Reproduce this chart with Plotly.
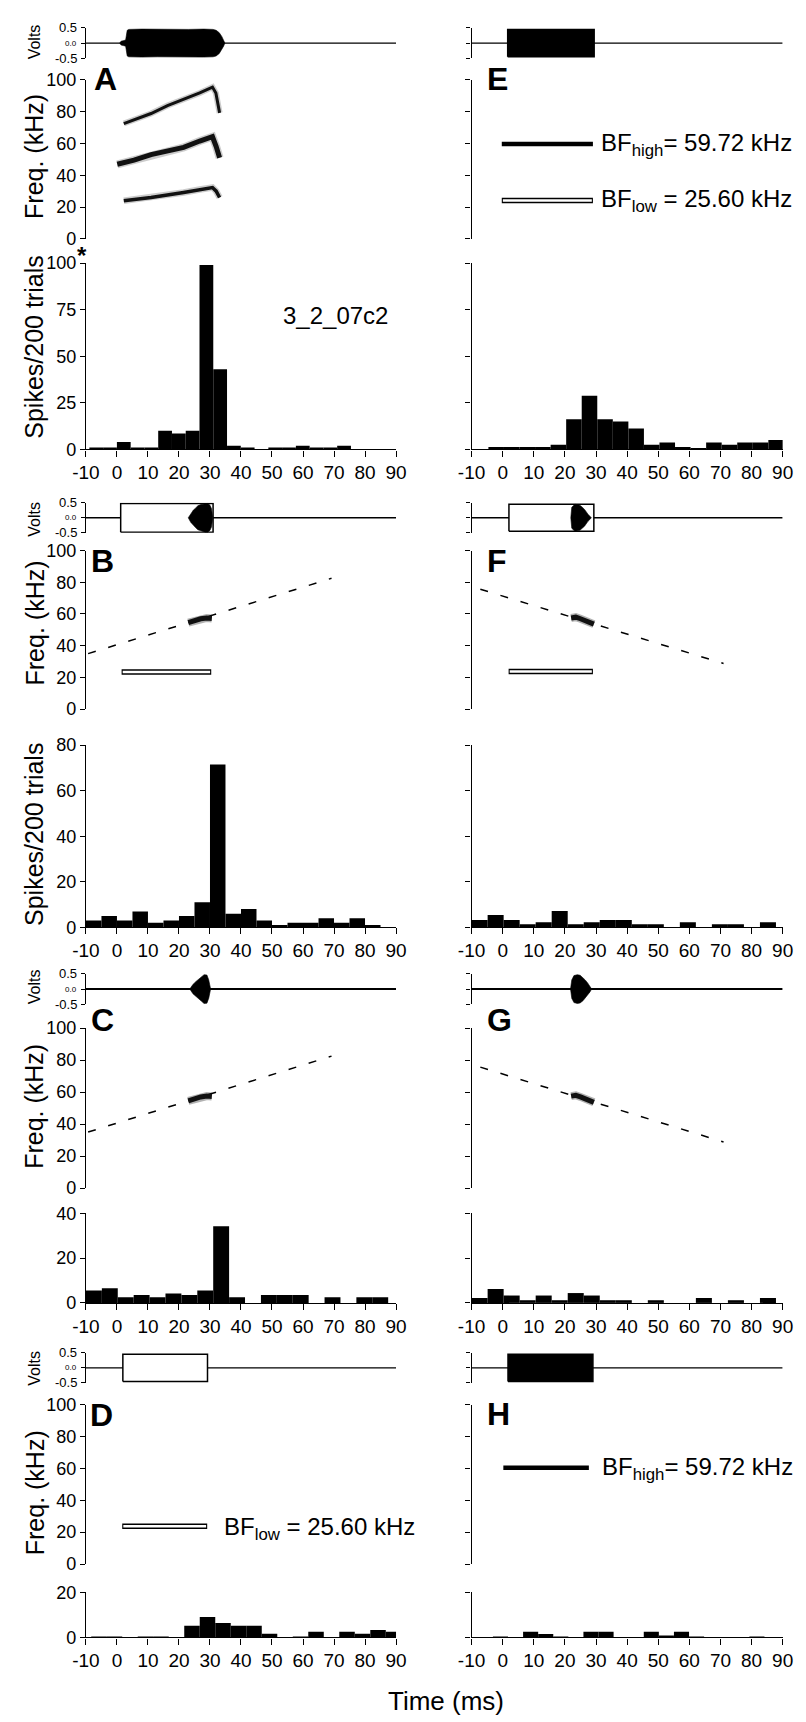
import plotly.graph_objects as go

W, H = 806, 1722
FONT = "Liberation Sans, Arial, Helvetica, sans-serif"

# ---------------- data ----------------
time_ticks = [-10, 0, 10, 20, 30, 40, 50, 60, 70, 80, 90]
time_labels = ["-10", "0", "10", "20", "30", "40", "50", "60", "70", "80", "90"]
freq_ticks = [0, 20, 40, 60, 80, 100]
volt_ticks = [-0.5, 0.0, 0.5]
volt_labels = ["-0.5", "0.0", "0.5"]

# PSTH (spikes / 200 trials): first bin start (ms), bin width (ms), counts
psth_A_start, psth_A_width = -8.9, 4.44
psth_A = [1, 1, 4, 1, 1, 10, 8.5, 10, 99, 43, 2, 1, 0, 1, 1, 2, 1, 1, 2, 0, 0, 0]
psth_B_start, psth_B_width = -10.0, 5.0
psth_B = [3, 5, 3, 7, 2, 3, 5, 11, 71.5, 6, 8, 3, 1, 2, 2, 4, 2, 4, 1, 0]
psth_C_start, psth_C_width = -10.0, 5.13
psth_C = [5.5, 6.5, 2.5, 3.5, 2.5, 4.2, 3.5, 5.5, 34.3, 2.5, 0, 3.5, 3.5, 3.5, 0, 2.5, 0, 2.5, 2.5]
psth_D_start, psth_D_width = -8.3, 5.0
psth_D = [0.3, 0.3, 0, 0.3, 0.3, 0, 5.2, 9.1, 6.4, 5.2, 5.2, 1.6, 0, 0.3, 2.5, 0, 2.5, 1.6, 3.3, 2.5]
psth_E_start, psth_E_width = -9.6, 5.0
psth_E = [0, 1, 1, 1, 1, 2, 13, 23, 13, 12, 9, 2, 3, 1, 0.3, 3, 2, 3, 3, 4]
psth_F_start, psth_F_width = -10.0, 5.15
psth_F = [3.2, 5.4, 3.2, 1.4, 2.2, 7.2, 1.4, 2.2, 3.2, 3.2, 1.4, 1.4, 0, 2.2, 0, 1.4, 1.4, 0, 2.2]
psth_G_start, psth_G_width = -10.0, 5.15
psth_G = [2.2, 6.2, 3.3, 1.2, 3.3, 1.2, 4.4, 3.3, 1.2, 1.2, 0, 1.2, 0, 0, 2.2, 0, 1.2, 0, 2.2]
psth_H_start, psth_H_width = -8.0, 4.85
psth_H = [0, 0.3, 0, 2.5, 1.5, 0.3, 0, 2.5, 2.5, 0, 0, 2.5, 0.5, 2.5, 0.3, 0, 0, 0, 0.3, 0]
psth_ymax = dict(A=100, B=80, C=40, D=20, E=80, F=80, G=40, H=20)
psth_yticks = dict(A=[0, 25, 50, 75, 100], B=[0, 20, 40, 60, 80], C=[0, 20, 40], D=[0, 20],
                   E=[0, 20, 40, 60, 80], F=[0, 20, 40, 60, 80], G=[0, 20, 40], H=[0, 20])

# oscillogram envelopes (ms, volts)
osc_A_t = [0.9, 1.3, 2.0, 2.8, 3.3, 3.8, 8, 13, 18, 23, 28, 31.0, 32.0, 33.0, 33.8, 34.4, 34.8]
osc_A_amp = [0, 0.06, 0.08, 0.1, 0.42, 0.45, 0.46, 0.45, 0.46, 0.45, 0.46, 0.45, 0.42, 0.34, 0.22, 0.1, 0]
osc_B_t = [23.0, 23.8, 24.6, 25.4, 26.1, 27.0, 27.7, 28.5, 29.3, 30.0, 30.5, 30.9]
osc_B_amp = [0, 0.15, 0.25, 0.33, 0.4, 0.44, 0.46, 0.48, 0.48, 0.42, 0.3, 0]
osc_C_t = [23.5, 24.5, 25.5, 26.5, 27.3, 28.1, 29.0, 29.6, 30.2]
osc_C_amp = [0, 0.15, 0.25, 0.33, 0.4, 0.47, 0.46, 0.3, 0]
osc_F_t = [21.9, 22.2, 23.2, 24.8, 25.6, 26.3, 27.4, 28.0, 28.5]
osc_F_amp = [0, 0.35, 0.45, 0.42, 0.35, 0.28, 0.12, 0.06, 0]
osc_G_t = [21.8, 22.2, 22.9, 24.0, 24.9, 25.8, 26.5, 27.3, 28.0, 28.6]
osc_G_amp = [0, 0.3, 0.44, 0.47, 0.45, 0.38, 0.3, 0.2, 0.1, 0]

# tone stimulus boxes: onset, offset (ms), amplitude (V)
tone_B = (1.2, 31.0, 0.48)
tone_D = (1.9, 29.2, 0.45)
tone_E = (1.6, 29.4, 0.45)
tone_F = (2.0, 29.3, 0.45)
tone_H = (1.7, 29.0, 0.45)

# spectrogram traces (ms, kHz)
harm1_t = [2.2, 11.0, 21.5, 26.7, 30.8, 32.0, 33.1]
harm1_f = [24, 26, 29.2, 31, 32.3, 30, 26]
harm2_t = [0.1, 5.5, 11.0, 16.3, 21.5, 26.7, 30.8, 32.0, 33.1]
harm2_f = [46.9, 49.5, 53, 55.5, 57.5, 61.5, 64.2, 58, 51]
harm3_t = [2.2, 11.0, 16.3, 21.5, 26.7, 30.8, 31.9, 33.1]
harm3_f = [72.5, 78.8, 83.8, 87.5, 91.7, 95.4, 91.7, 79.2]
sweep_up_t, sweep_up_f = [-9.3, 69.2], [35, 82.5]
sweep_down_t, sweep_down_f = [-7.2, 71.0], [75.6, 28.8]
seg_up_t, seg_up_f = [23, 25, 27, 29, 30.6], [54.5, 55.8, 57, 57.5, 57.2]
seg_down_t, seg_down_f = [22, 23.5, 25, 27, 29.3], [57.5, 58, 57, 55.3, 53.6]
bf_low_bar = dict(B=(1.5, 30.4, 23.5), D=(1.7, 29.1, 23.7), E=(-0.3, 29.0, 24.2), F=(1.9, 29.0, 23.8))
bf_high_bar = dict(E=(-0.3, 29.0, 59.6), H=(0.2, 27.7, 60.4))

# ---------------- layout geometry (pixels) ----------------
col_x = [(66, 386), (464, 785)]
rows = [
    dict(volt=(10, 40.8), freq=(62.5, 223.5), psth=(248, 436.5)),
    dict(volt=(490.5, 520.8), freq=(538.8, 699.3), psth=(735.7, 920)),
    dict(volt=(967, 998), freq=(1022, 1183.8), psth=(1209.5, 1300)),
    dict(volt=(1350.5, 1381), freq=(1403, 1564.2), psth=(1593, 1638.5)),
]
panels = [("A", 0, 0), ("B", 0, 1), ("C", 0, 2), ("D", 0, 3),
          ("E", 1, 0), ("F", 1, 1), ("G", 1, 2), ("H", 1, 3)]

fig = go.Figure()
layout_axes = {}
counter = [0]
ann = []


def new_axes(xpx, ypx):
    counter[0] += 1
    n = counter[0]
    xa = "xaxis" if n == 1 else f"xaxis{n}"
    ya = "yaxis" if n == 1 else f"yaxis{n}"
    xr = "x" if n == 1 else f"x{n}"
    yr = "y" if n == 1 else f"y{n}"
    layout_axes[xa] = dict(domain=[xpx[0] / W, xpx[1] / W], anchor=yr)
    layout_axes[ya] = dict(domain=[1 - ypx[1] / H, 1 - ypx[0] / H], anchor=xr)
    return xa, ya, xr, yr


base_axis = dict(showgrid=False, zeroline=False, linecolor="black", linewidth=1.3,
                 ticks="outside", tickcolor="black", ticklen=5, tickwidth=1.2,
                 tickfont=dict(family=FONT, size=18, color="black"), fixedrange=True)


def line(xr, yr, t, f, width, color="black", dash=None):
    fig.add_trace(go.Scatter(x=t, y=f, mode="lines", xaxis=xr, yaxis=yr, showlegend=False,
                             line=dict(color=color, width=width, dash=dash), hoverinfo="skip"))


def envelope(xr, yr, t, amp):
    xs = list(t) + list(t)[::-1]
    ys = list(amp) + [-a for a in amp][::-1]
    fig.add_trace(go.Scatter(x=xs, y=ys, mode="lines", fill="toself", fillcolor="black",
                             line=dict(color="black", width=0.6), xaxis=xr, yaxis=yr,
                             showlegend=False, hoverinfo="skip"))


def box(xr, yr, tone, filled):
    t0, t1, a = tone
    fig.add_trace(go.Scatter(x=[t0, t1, t1, t0, t0], y=[-a, -a, a, a, -a], mode="lines",
                             fill="toself", fillcolor="black" if filled else "white",
                             line=dict(color="black", width=1.5), xaxis=xr, yaxis=yr,
                             showlegend=False, hoverinfo="skip"))


def open_bar(xr, yr, spec):
    t0, t1, f = spec
    line(xr, yr, [t0, t1], [f, f], 5.5)
    line(xr, yr, [t0 + 0.35, t1 - 0.35], [f, f], 2.5, color="white")


psth_data = dict(A=(psth_A_start, psth_A_width, psth_A), B=(psth_B_start, psth_B_width, psth_B),
                 C=(psth_C_start, psth_C_width, psth_C), D=(psth_D_start, psth_D_width, psth_D),
                 E=(psth_E_start, psth_E_width, psth_E), F=(psth_F_start, psth_F_width, psth_F),
                 G=(psth_G_start, psth_G_width, psth_G), H=(psth_H_start, psth_H_width, psth_H))


def px(x):
    return x / W


def py(y):
    return 1 - y / H


def text(x, y, s, size, bold=False, angle=0, xanchor="center", yanchor="middle"):
    ann.append(dict(x=px(x), y=py(y), xref="paper", yref="paper", text=s,
                    showarrow=False, textangle=angle, xanchor=xanchor, yanchor=yanchor,
                    font=dict(family=FONT, size=size, color="black",
                              weight=("bold" if bold else "normal"))))


for name, c, r in panels:
    left = c == 0
    xpx = col_x[c]
    g = rows[r]
    # ---- oscillogram ----
    xa, ya, xr, yr = new_axes(xpx, g["volt"])
    layout_axes[xa].update(visible=False, range=[-10, 90])
    layout_axes[ya].update(base_axis, range=[-0.5, 0.5], tickvals=volt_ticks,
                           showticklabels=False, showline=True, ticklen=4)
    if left:
        v0, v1 = g["volt"]
        for val, lab in zip(volt_ticks, volt_labels):
            ypos = v1 - (val + 0.5) * (v1 - v0)
            text(xpx[0] - 7, ypos, lab, 8 if val == 0 else 13, xanchor="right")
    line(xr, yr, [-10, 90], [0, 0], 2 if name in "CG" else 1.3)
    if name == "A":
        envelope(xr, yr, osc_A_t, osc_A_amp)
    if name == "B":
        box(xr, yr, tone_B, False)
        envelope(xr, yr, osc_B_t, osc_B_amp)
    if name == "C":
        envelope(xr, yr, osc_C_t, osc_C_amp)
    if name == "D":
        box(xr, yr, tone_D, False)
    if name == "E":
        box(xr, yr, tone_E, True)
    if name == "F":
        box(xr, yr, tone_F, False)
        envelope(xr, yr, osc_F_t, osc_F_amp)
    if name == "G":
        envelope(xr, yr, osc_G_t, osc_G_amp)
    if name == "H":
        box(xr, yr, tone_H, True)

    # ---- spectrogram ----
    xa, ya, xr, yr = new_axes(xpx, g["freq"])
    layout_axes[xa].update(visible=False, range=[-10, 90])
    layout_axes[ya].update(base_axis, range=[0, 100], tickvals=freq_ticks, showticklabels=left,
                           showline=True)
    if name == "A":
        for t, f, w in ((harm1_t, harm1_f, 3.5), (harm2_t, harm2_f, 5), (harm3_t, harm3_f, 3)):
            line(xr, yr, t, f, w + 3, color="rgba(0,0,0,0.2)")
            line(xr, yr, t, f, w, color="#111")
    if name in "BC":
        line(xr, yr, sweep_up_t, sweep_up_f, 1.5, dash="8px,13px")
        line(xr, yr, seg_up_t, seg_up_f, 8, color="rgba(0,0,0,0.3)")
        line(xr, yr, seg_up_t, seg_up_f, 5, color="#111")
    if name in "FG":
        line(xr, yr, sweep_down_t, sweep_down_f, 1.5, dash="8px,13px")
        line(xr, yr, seg_down_t, seg_down_f, 8, color="rgba(0,0,0,0.3)")
        line(xr, yr, seg_down_t, seg_down_f, 5, color="#111")
    if name in bf_low_bar:
        open_bar(xr, yr, bf_low_bar[name])
    if name in bf_high_bar:
        t0, t1, f = bf_high_bar[name]
        line(xr, yr, [t0, t1], [f, f], 4.5)

    # ---- PSTH ----
    xa, ya, xr, yr = new_axes(xpx, g["psth"])
    start, width, counts = psth_data[name]
    centers = [start + width * (i + 0.5) for i in range(len(counts))]
    fig.add_trace(go.Bar(x=centers, y=counts, width=[width] * len(counts), xaxis=xr, yaxis=yr,
                         marker=dict(color="black", line=dict(width=0)), showlegend=False,
                         hoverinfo="skip"))
    layout_axes[xa].update(base_axis, range=[-10, 90], tickvals=time_ticks, ticktext=time_labels,
                           showline=True, ticklen=6,
                           tickfont=dict(family=FONT, size=19, color="black"))
    layout_axes[ya].update(base_axis, range=[0, psth_ymax[name]], tickvals=psth_yticks[name],
                           showticklabels=left, showline=True)

# panel letters
for s, x, y in (("A", 86, 61.5), ("B", 83, 549.5), ("C", 83, 1014), ("D", 82.5, 1413.5),
                ("E", 491, 61.5), ("F", 490, 549), ("G", 493, 1014), ("H", 491.5, 1412)):
    text(x, y, s, 32, bold=True)

# axis titles (left column)
for y in (24, 507, 980, 1366):
    text(13, y, "Volts", 16, angle=-90)
for y in (140, 612, 1101, 1492):
    text(13, y, "Freq. (kHz)", 25, angle=-90)
for y in (333, 826):
    text(13, y, "Spikes/200 trials", 25, angle=-90)

text(62, 240, "*", 24, bold=True)
text(324, 301, "3_2_07c2", 24)
text(595, 128, "BF<sub>high</sub>= 59.72 kHz", 24, xanchor="left")
text(595, 185, "BF<sub>low</sub> = 25.60 kHz", 24, xanchor="left")
text(206, 1528, "BF<sub>low</sub> = 25.60 kHz", 24, xanchor="left")
text(596, 1468, "BF<sub>high</sub>= 59.72 kHz", 24, xanchor="left")
text(438, 1703, "Time (ms)", 26)

fig.update_layout(width=W, height=H, margin=dict(l=0, r=0, t=0, b=0),
                  paper_bgcolor="white", plot_bgcolor="white", showlegend=False,
                  annotations=ann, font=dict(family=FONT, color="black"), **layout_axes)

fig.write_html("out.html")
